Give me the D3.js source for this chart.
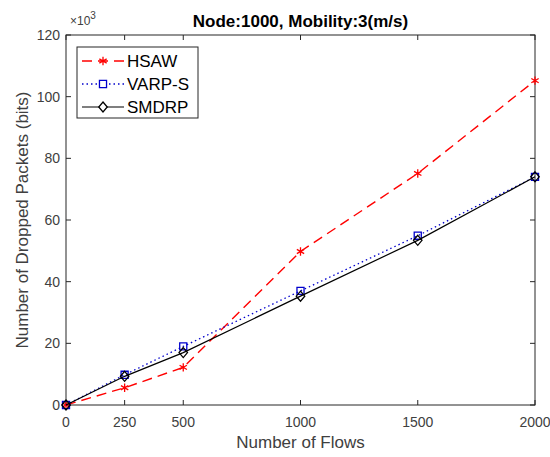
<!DOCTYPE html>
<html>
<head>
<meta charset="utf-8">
<script src="https://cdn.jsdelivr.net/npm/d3@7"></script>
<style>
  body { margin: 0; background: #fff; }
  text { font-family: "Liberation Sans", Arial, sans-serif; }
</style>
</head>
<body>
<script>
// chart data
var flows = [0, 250, 500, 1000, 1500, 2000];
var hsaw = [0, 5.6, 12.2, 49.8, 75.1, 105.2];
var varps = [0, 9.8, 19.0, 37.0, 54.9, 74.0];
var smdrp = [0, 9.3, 17.0, 35.3, 53.4, 74.0];
var yTicks = [0, 20, 40, 60, 80, 100, 120];
var seriesNames = ["HSAW", "VARP-S", "SMDRP"];

var width = 550, height = 457;
// plot box (note: "top" would clash with window.top)
var plotL = 66, plotR = 535, plotT = 35, plotB = 405;

var svg = d3.select("body").append("svg")
    .attr("width", width)
    .attr("height", height);

svg.append("rect").attr("width", width).attr("height", height).attr("fill", "#fff");

var x = d3.scaleLinear().domain([0, 2000]).range([plotL, plotR]);
var y = d3.scaleLinear().domain([0, 120]).range([plotB, plotT]);

var axisColor = "#262626";
var tickColor = "#404040";

// frame (box on)
svg.append("rect")
    .attr("x", plotL).attr("y", plotT)
    .attr("width", plotR - plotL).attr("height", plotB - plotT)
    .attr("fill", "none").attr("stroke", axisColor).attr("stroke-width", 1);

// x ticks bottom + top, inward
flows.forEach(function (f) {
    svg.append("line").attr("x1", x(f)).attr("x2", x(f)).attr("y1", plotB).attr("y2", plotB - 5)
        .attr("stroke", axisColor);
    svg.append("line").attr("x1", x(f)).attr("x2", x(f)).attr("y1", plotT).attr("y2", plotT + 5)
        .attr("stroke", axisColor);
    svg.append("text").attr("x", x(f)).attr("y", 427)
        .attr("text-anchor", "middle").attr("font-size", 14).attr("fill", tickColor)
        .text(f);
});

// y ticks left + right, inward
yTicks.forEach(function (t) {
    svg.append("line").attr("x1", plotL).attr("x2", plotL + 5).attr("y1", y(t)).attr("y2", y(t))
        .attr("stroke", axisColor);
    svg.append("line").attr("x1", plotR).attr("x2", plotR - 5).attr("y1", y(t)).attr("y2", y(t))
        .attr("stroke", axisColor);
    svg.append("text").attr("x", plotL - 6).attr("y", y(t)).attr("dy", "0.36em")
        .attr("text-anchor", "end").attr("font-size", 14).attr("fill", tickColor)
        .text(t);
});

// exponent label
var expo = svg.append("text").attr("x", plotL + 4).attr("y", 25)
    .attr("font-size", 12).attr("fill", tickColor);
expo.append("tspan").text("\u00d710");
expo.append("tspan").attr("dy", -6).attr("font-size", 10).text("3");

// title
svg.append("text").attr("x", (plotL + plotR) / 2).attr("y", 27)
    .attr("text-anchor", "middle").attr("font-size", 17).attr("font-weight", "bold")
    .attr("fill", "#000").text("Node:1000, Mobility:3(m/s)");

// axis labels
svg.append("text").attr("x", (plotL + plotR) / 2).attr("y", 448)
    .attr("text-anchor", "middle").attr("font-size", 17).attr("fill", tickColor)
    .text("Number of Flows");
svg.append("text")
    .attr("transform", "translate(28," + ((plotT + plotB) / 2) + ") rotate(-90)")
    .attr("text-anchor", "middle").attr("font-size", 17).attr("fill", tickColor)
    .text("Number of Dropped Packets (bits)");

var line = d3.line()
    .x(function (d) { return x(d[0]); })
    .y(function (d) { return y(d[1]); });

function pairs(vals) { return flows.map(function (f, i) { return [f, vals[i]]; }); }

// matlab-like diamond: wider than d3's default
var wideDiamond = {
    draw: function (ctx, size) {
        var h = Math.sqrt(size / 2);
        var w = h * 0.85;
        ctx.moveTo(0, -h);
        ctx.lineTo(w, 0);
        ctx.lineTo(0, h);
        ctx.lineTo(-w, 0);
        ctx.closePath();
    }
};

var styles = [
    { vals: hsaw, color: "#ff0000", dash: "10,6", width: 1.4, marker: d3.symbolAsterisk, size: 50 },
    { vals: varps, color: "#0000cc", dash: "1.5,3", width: 1.3, marker: d3.symbolSquare, size: 50 },
    { vals: smdrp, color: "#000000", dash: null, width: 1.2, marker: wideDiamond, size: 50 }
];

styles.forEach(function (s) {
    svg.append("path").datum(pairs(s.vals))
        .attr("d", line)
        .attr("fill", "none")
        .attr("stroke", s.color)
        .attr("stroke-width", s.width)
        .attr("stroke-dasharray", s.dash);
    svg.selectAll(null).data(pairs(s.vals)).enter().append("path")
        .attr("transform", function (d) { return "translate(" + x(d[0]) + "," + y(d[1]) + ")"; })
        .attr("d", d3.symbol().type(s.marker).size(s.size))
        .attr("fill", "none")
        .attr("stroke", s.color)
        .attr("stroke-width", 1.3);
});

// legend
var lg = svg.append("g");
lg.append("rect").attr("x", 77).attr("y", 47).attr("width", 121).attr("height", 71)
    .attr("fill", "#fff").attr("stroke", axisColor).attr("stroke-width", 1);
styles.forEach(function (s, i) {
    var ly = 61 + i * 23;
    lg.append("line").attr("x1", 82).attr("x2", 124).attr("y1", ly).attr("y2", ly)
        .attr("stroke", s.color).attr("stroke-width", s.width)
        .attr("stroke-dasharray", s.dash);
    lg.append("path").attr("transform", "translate(103," + ly + ")")
        .attr("d", d3.symbol().type(s.marker).size(s.size))
        .attr("fill", "#fff").attr("stroke", s.color).attr("stroke-width", 1.3);
    lg.append("text").attr("x", 127).attr("y", ly).attr("dy", "0.36em")
        .attr("font-size", 17).attr("fill", "#000").text(seriesNames[i]);
});
</script>
</body>
</html>
